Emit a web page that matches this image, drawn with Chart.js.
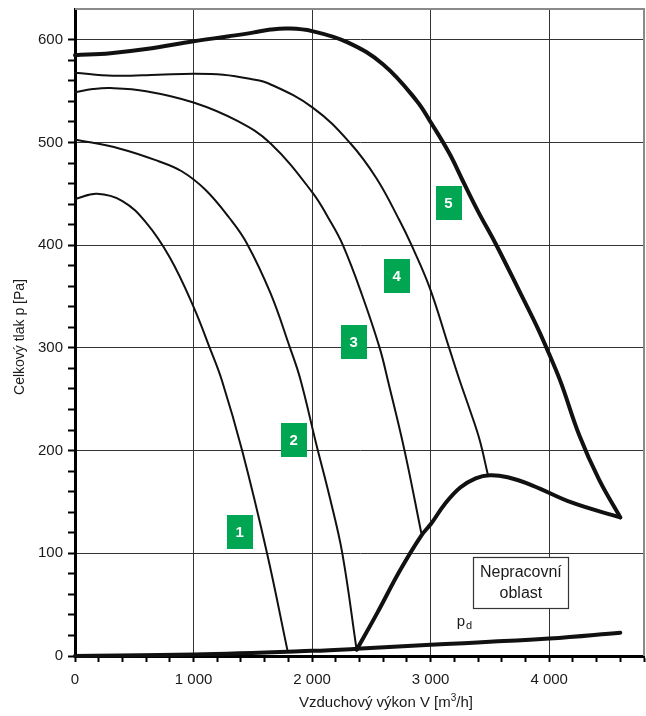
<!DOCTYPE html>
<html lang="cs">
<head>
<meta charset="utf-8">
<title>Charakteristika ventilátoru</title>
<script src="https://cdn.jsdelivr.net/npm/chart.js@4.4.1/dist/chart.umd.min.js"></script>
<style>
    html, body { margin: 0; padding: 0; background: #fff; }
    #obal { width: 646px; height: 716px; }
</style>
</head>
<body>
<div id="obal"><canvas id="graf" width="646" height="716"></canvas></div>
<script>
// Charakteristiky ventilátoru pro stupně 1-5, vzduchový výkon [m3/h] -> celkový tlak [Pa]

const krivka1V = [0, 185, 400, 600, 800, 1000, 1140, 1240, 1410, 1620, 1795];
const krivka1P = [445, 450, 443, 422, 388, 340, 299, 268, 200, 100, 4];

const krivka2V = [0, 380, 700, 900, 1100, 1306, 1449, 1650, 1811, 1900, 2036, 2150, 2255, 2376];
const krivka2P = [503, 494, 482, 472, 454, 426, 402, 353, 301, 270, 206, 154, 100, 6];

const krivka3V = [0, 150, 300, 600, 1000, 1370, 1650, 2005, 2150, 2260, 2420, 2570, 2640, 2780, 2921];
const krivka3P = [549, 552, 553, 550, 539, 521, 499, 451, 424, 400, 352, 300, 268, 200, 120];

const krivka4V = [0, 320, 700, 1000, 1250, 1474, 1643, 2005, 2317, 2544, 2738, 2839, 2991, 3159, 3243, 3330, 3412, 3482];
const krivka4P = [568, 565, 566, 567, 566, 562, 557, 534, 500, 465, 424, 400, 359, 299, 269, 240, 211, 177];

const krivka5V = [0, 300, 600, 1000, 1300, 1500, 1650, 1800, 2000, 2300, 2600, 2880, 3010, 3160, 3270, 3400, 3555, 3750, 3900, 4000, 4100, 4254, 4420, 4600];
const krivka5P = [585, 587, 591, 598.5, 603.5, 607, 610, 611, 608.5, 597.5, 576, 541, 518, 489, 463, 433, 400, 355, 320, 294, 266, 215, 172, 135];

// hranice pracovní oblasti
const mezV = [2376, 2550, 2740, 2920, 3005, 3120, 3250, 3380, 3500, 3650, 3860, 4200, 4600];
const mezP = [6, 42, 83, 117, 129, 148, 164, 173, 176, 174, 166, 149, 135];

// dynamický tlak pd
const pdV = [0, 1000, 2000, 2376, 3000, 4000, 4600];
const pdP = [0, 1.5, 5, 7, 11, 17, 22.7];

// čísla stupňů v zelených štítcích
const stitkyText = ['1', '2', '3', '4', '5'];
const stitkyV = [1390, 1845, 2350, 2713, 3151];
const stitkyP = [121, 210, 306, 370, 441];

// popisky os
const tickyVykon = [0, 1000, 2000, 3000, 4000];
const tickyTlak = [0, 100, 200, 300, 400, 500, 600];

const PISMO = "'Liberation Sans', Arial, Helvetica, sans-serif";

function body(v, p) {
    return v.map((x, i) => ({ x: x, y: p[i] }));
}

function krivka(v, p, tloustka) {
    return {
        data: body(v, p),
        borderColor: '#111',
        borderWidth: tloustka,
        pointRadius: 0,
        fill: false,
        tension: 0.4,
        borderCapStyle: 'round',
        borderJoinStyle: 'round',
        clip: 6
    };
}

const popisky = {
    id: 'popisky',
    afterDatasetsDraw(chart) {
        const ctx = chart.ctx;
        const sx = chart.scales.x;
        const sy = chart.scales.y;
        const ca = chart.chartArea;
        ctx.save();

        // šedý rámeček nahoře a vpravo
        ctx.strokeStyle = '#8a8a8a';
        ctx.lineWidth = 2;
        ctx.beginPath();
        ctx.moveTo(ca.left, ca.top);
        ctx.lineTo(ca.right, ca.top);
        ctx.lineTo(ca.right, ca.bottom);
        ctx.stroke();

        // zelené štítky
        ctx.font = 'bold 15px ' + PISMO;
        ctx.textAlign = 'center';
        ctx.textBaseline = 'middle';
        stitkyText.forEach((t, i) => {
            const x = sx.getPixelForValue(stitkyV[i]);
            const y = sy.getPixelForValue(stitkyP[i]);
            ctx.fillStyle = '#00a651';
            ctx.fillRect(Math.round(x - 13), Math.round(y - 17), 26, 34);
            ctx.fillStyle = '#fff';
            ctx.fillText(t, x, y + 1);
        });

        // rámeček "Nepracovní oblast"
        const bx1 = sx.getPixelForValue(3361), bx2 = sx.getPixelForValue(4162);
        const by1 = sy.getPixelForValue(96.5), by2 = sy.getPixelForValue(46.5);
        ctx.fillStyle = '#fff';
        ctx.fillRect(bx1, by1, bx2 - bx1, by2 - by1);
        ctx.strokeStyle = '#333';
        ctx.lineWidth = 1.2;
        ctx.strokeRect(Math.round(bx1) + 0.5, Math.round(by1) + 0.5, Math.round(bx2 - bx1), Math.round(by2 - by1));
        ctx.fillStyle = '#1a1a1a';
        ctx.font = '16px ' + PISMO;
        ctx.textBaseline = 'alphabetic';
        ctx.fillText('Nepracovní', (bx1 + bx2) / 2, by1 + 20);
        ctx.fillText('oblast', (bx1 + bx2) / 2, by1 + 41);

        // pd
        const px = sx.getPixelForValue(3220);
        const py = sy.getPixelForValue(29);
        ctx.textAlign = 'left';
        ctx.font = '15px ' + PISMO;
        ctx.fillText('p', px, py);
        const wp = ctx.measureText('p').width;
        ctx.font = '11px ' + PISMO;
        ctx.fillText('d', px + wp + 1, py + 3);

        // název osy x s horním indexem
        ctx.font = '15px ' + PISMO;
        const t1 = 'Vzduchový výkon V [m';
        const t2 = '/h]';
        const w1 = ctx.measureText(t1).width;
        const w2 = ctx.measureText(t2).width;
        ctx.font = '10px ' + PISMO;
        const w3 = ctx.measureText('3').width;
        const celkem = w1 + w3 + w2;
        let x0 = 386 - celkem / 2;
        const yb = ca.bottom + 51;
        ctx.font = '15px ' + PISMO;
        ctx.fillText(t1, x0, yb);
        ctx.font = '10px ' + PISMO;
        ctx.fillText('3', x0 + w1, yb - 6);
        ctx.font = '15px ' + PISMO;
        ctx.fillText(t2, x0 + w1 + w3, yb);

        // název osy y
        ctx.save();
        ctx.translate(20, 337);
        ctx.rotate(-Math.PI / 2);
        ctx.textAlign = 'center';
        ctx.textBaseline = 'middle';
        ctx.font = '14px ' + PISMO;
        ctx.fillText('Celkový tlak p [Pa]', 0, 0);
        ctx.restore();

        ctx.restore();
    }
};

const graf = new Chart(document.getElementById('graf').getContext('2d'), {
    type: 'line',
    data: {
        datasets: [
            krivka(krivka1V, krivka1P, 2),
            krivka(krivka2V, krivka2P, 2),
            krivka(krivka3V, krivka3P, 2),
            krivka(krivka4V, krivka4P, 2),
            krivka(krivka5V, krivka5P, 4),
            krivka(mezV, mezP, 4),
            krivka(pdV, pdP, 4)
        ]
    },
    options: {
        responsive: false,
        animation: false,
        layout: { padding: { top: 9, right: 2, left: 0, bottom: 0 } },
        plugins: {
            legend: { display: false },
            tooltip: { enabled: false }
        },
        scales: {
            x: {
                type: 'linear',
                min: 0,
                max: 4800,
                afterFit: (s) => { s.height = 60; s.paddingLeft = 0; s.paddingRight = 0; },
                border: { color: '#000', width: 3 },
                grid: {
                    color: (c) => tickyVykon.includes(c.tick.value) && c.tick.value > 0 ? '#333' : 'rgba(0,0,0,0)',
                    lineWidth: 1,
                    tickColor: '#000',
                    tickLength: 6,
                    tickWidth: 2
                },
                ticks: {
                    stepSize: 200,
                    autoSkip: false,
                    maxRotation: 0,
                    padding: 9,
                    color: '#1a1a1a',
                    font: { family: PISMO, size: 15 },
                    callback: (v) => {
                        if (!tickyVykon.includes(v)) return '';
                        return v === 0 ? '0' : (v / 1000) + ' 000';
                    }
                }
            },
            y: {
                type: 'linear',
                min: 0,
                max: 630,
                afterFit: (s) => { s.width = 75; s.paddingTop = 0; s.paddingBottom = 0; },
                border: { color: '#000', width: 3 },
                grid: {
                    color: (c) => tickyTlak.includes(c.tick.value) && c.tick.value > 0 ? '#333' : 'rgba(0,0,0,0)',
                    lineWidth: 1,
                    tickColor: (c) => c.tick.value % 20 === 0 ? '#000' : 'rgba(0,0,0,0)',
                    tickLength: 7,
                    tickWidth: 2
                },
                ticks: {
                    stepSize: 20,
                    autoSkip: false,
                    padding: 5,
                    color: '#1a1a1a',
                    font: { family: PISMO, size: 15 },
                    callback: (v) => tickyTlak.includes(v) ? String(v) : ''
                }
            }
        }
    },
    plugins: [popisky]
});
</script>
</body>
</html>
